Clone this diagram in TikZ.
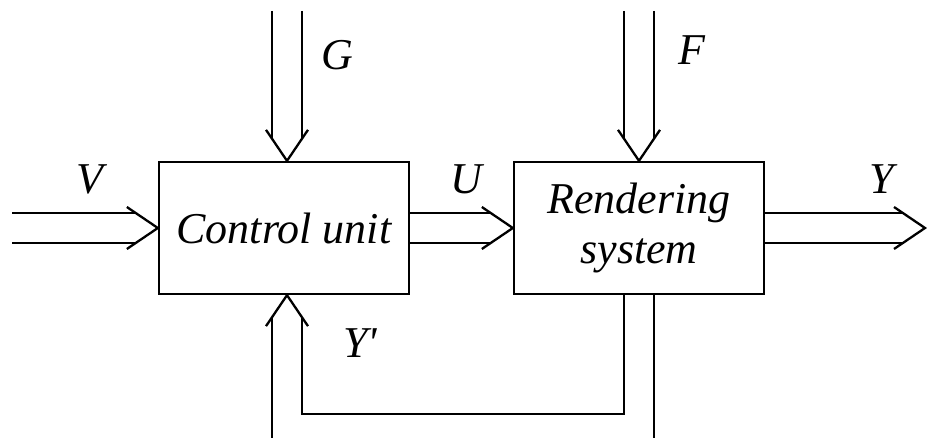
\documentclass[tikz,border=0pt]{standalone}
\usepackage{fontspec}
\setmainfont{Liberation Serif}
\usetikzlibrary{calc}
\begin{document}
\begin{tikzpicture}[x=1pt,y=-1pt,
  wire/.style={line width=2.3pt, line cap=butt, line join=miter},
  block/.style={draw, line width=2.3pt, minimum width=250pt, minimum height=132pt,
    inner sep=0pt, align=center, font=\fontsize{44}{50}\selectfont\itshape},
  sym/.style={font=\fontsize{44}{50}\selectfont\itshape, inner sep=0pt}]
\useasboundingbox (0,0) rectangle (927,438);

% blocks
\node[block] (cu) at (284,228) {Control unit};
\node[block] (rs) at (639,228) {Rendering\\system};

% free ends and tips of the channels
\coordinate (vin)  at (12,228);
\coordinate (yout) at (925,228);
\coordinate (gtip) at ($(cu.north)+(3,0)$);
\coordinate (gin)  at ($(gtip)+(0,-150)$);
\coordinate (fin)  at ($(rs.north)+(0,-150)$);
\coordinate (ytip) at ($(cu.south)+(3,0)$);
\coordinate (ybot) at (0,438);
\coordinate (loop) at (0,414);
\coordinate (yl)   at ($(ytip)+(-15,0)$);
\coordinate (yr)   at ($(ytip)+(15,0)$);
\coordinate (fl)   at ($(rs.south)+(-15,0)$);
\coordinate (fr)   at ($(rs.south)+(15,0)$);

% V: input into the control unit
\draw[wire] ($(vin)+(0,-15)$) -- ($(cu.west)+(-22,-15)$);
\draw[wire] ($(vin)+(0,15)$) -- ($(cu.west)+(-22,15)$);
\draw[wire] ($(cu.west)+(-31,-21)$) -- (cu.west) -- ($(cu.west)+(-31,21)$);

% U: control unit to rendering system
\draw[wire] ($(cu.east)+(0,-15)$) -- ($(rs.west)+(-22,-15)$);
\draw[wire] ($(cu.east)+(0,15)$) -- ($(rs.west)+(-22,15)$);
\draw[wire] ($(rs.west)+(-31,-21)$) -- (rs.west) -- ($(rs.west)+(-31,21)$);

% Y: output of the rendering system
\draw[wire] ($(rs.east)+(0,-15)$) -- ($(yout)+(-22,-15)$);
\draw[wire] ($(rs.east)+(0,15)$) -- ($(yout)+(-22,15)$);
\draw[wire] ($(yout)+(-31,-21)$) -- (yout) -- ($(yout)+(-31,21)$);

% G: into the control unit from above
\draw[wire] ($(gin)+(-15,0)$) -- ($(gtip)+(-15,-22)$);
\draw[wire] ($(gin)+(15,0)$) -- ($(gtip)+(15,-22)$);
\draw[wire] ($(gtip)+(-21,-31)$) -- (gtip) -- ($(gtip)+(21,-31)$);

% F: into the rendering system from above
\draw[wire] ($(fin)+(-15,0)$) -- ($(rs.north)+(-15,-22)$);
\draw[wire] ($(fin)+(15,0)$) -- ($(rs.north)+(15,-22)$);
\draw[wire] ($(rs.north)+(-21,-31)$) -- (rs.north) -- ($(rs.north)+(21,-31)$);

% Y': feedback into the control unit from below
\draw[wire] (yl |- ybot) -- ($(yl)+(0,22)$);
\draw[wire] ($(yr)+(0,22)$) -- (yr |- loop) -| (fl);
\draw[wire] (fr) -- (fr |- ybot);
\draw[wire] ($(ytip)+(-21,31)$) -- (ytip) -- ($(ytip)+(21,31)$);

% channel labels
\node[sym] (lv) at (90,179) {V};
\node[sym] (lg) at (337,55) {G};
\node[sym] (lf) at (692,50) {F};
\node[sym] (lu) at (466,179) {U};
\node[sym] (ly) at (882,179) {Y};
\node[sym] (lyp) at (360,343) {Y\textquotesingle};
\end{tikzpicture}
\end{document}
